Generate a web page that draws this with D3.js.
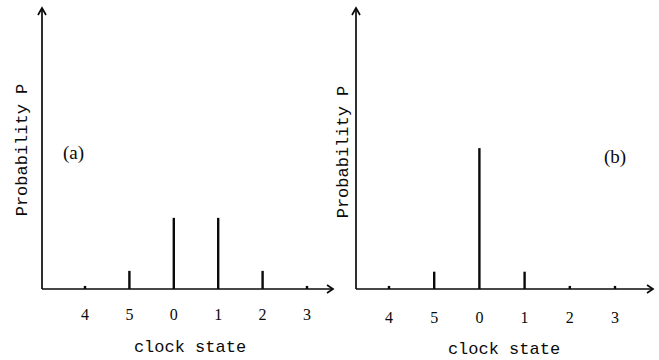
<!DOCTYPE html>
<meta charset="utf-8">
<style>
  body { margin: 0; background: #fff; }
  .tick_label { font-family: "Liberation Serif", serif; font-size: 16px; }
  .axis_title { font-family: "Liberation Mono", monospace; font-size: 17px; }
  .panel_tag { font-family: "Liberation Serif", serif; font-size: 19px; }
</style>
<body>
<script src="https://cdn.jsdelivr.net/npm/d3@7"></script>
<script>

var width = 659
var height = 360

// clock states in the order they appear on the axis
var states = ["4", "5", "0", "1", "2", "3"];
// probabilities (arbitrary units, same scale for both panels)
var probA = [0.011, 0.065, 0.255, 0.255, 0.065, 0.011];
var probB = [0.011, 0.062, 0.505, 0.062, 0.011, 0.011];

var svg = d3.select("body")
	.append("svg")
	.attr("width", width)
	.attr("height", height);

var ink = "#0a0a0a";

function drawPanel(values, opt) {
	var g = svg.append("g");

	var x = d3.scalePoint()
		.domain(states)
		.range([opt.x0, opt.x1]);

	var y = d3.scaleLinear()
		.domain([0, 1])
		.range([opt.base, opt.top]);

	// axes with open arrow heads
	g.append("path")
		.attr("d", "M" + opt.axisX + "," + opt.base + "V" + (opt.top - 2))
		.attr("stroke", ink).attr("stroke-width", 1.7).attr("fill", "none");
	g.append("path")
		.attr("d", "M" + (opt.axisX - 4) + "," + (opt.top + 5) + "L" + opt.axisX + "," + (opt.top - 2) + "L" + (opt.axisX + 4) + "," + (opt.top + 5))
		.attr("stroke", ink).attr("stroke-width", 1.7).attr("fill", "none");
	g.append("path")
		.attr("d", "M" + opt.axisX + "," + opt.base + "H" + opt.xEnd)
		.attr("stroke", ink).attr("stroke-width", 1.7).attr("fill", "none");
	g.append("path")
		.attr("d", "M" + (opt.xEnd - 6) + "," + (opt.base - 4) + "L" + opt.xEnd + "," + opt.base + "L" + (opt.xEnd - 6) + "," + (opt.base + 4))
		.attr("stroke", ink).attr("stroke-width", 1.7).attr("fill", "none");

	// probability spikes
	g.selectAll("line.spike")
		.data(values)
		.enter()
		.append("line")
		.attr("class", "spike")
		.attr("x1", function (d, i) { return x(states[i]); })
		.attr("x2", function (d, i) { return x(states[i]); })
		.attr("y1", y(0))
		.attr("y2", function (d) { return y(d); })
		.attr("stroke", ink)
		.attr("stroke-width", 2.4);

	// state labels
	g.selectAll("text.tick_label")
		.data(states)
		.enter()
		.append("text")
		.attr("class", "tick_label")
		.attr("text-anchor", "middle")
		.attr("x", function (d) { return x(d); })
		.attr("y", opt.labelY)
		.attr("fill", ink)
		.text(function (d) { return d; });

	g.append("text")
		.attr("class", "axis_title")
		.attr("text-anchor", "middle")
		.attr("x", opt.titleX)
		.attr("y", opt.titleY)
		.attr("fill", ink)
		.text("clock state");

	g.append("text")
		.attr("class", "axis_title")
		.attr("text-anchor", "middle")
		.attr("transform", "translate(" + opt.yTitleX + "," + opt.yTitleY + ") rotate(-90)")
		.attr("fill", ink)
		.text("Probability P");

	g.append("text")
		.attr("class", "panel_tag")
		.attr("x", opt.tagX)
		.attr("y", opt.tagY)
		.attr("fill", ink)
		.text(opt.tag);
}

drawPanel(probA, {
	x0: 85, x1: 307, base: 289, top: 10, axisX: 42, xEnd: 333,
	labelY: 320, titleX: 190, titleY: 352, yTitleX: 27, yTitleY: 150,
	tagX: 63, tagY: 159, tag: "(a)"
});

drawPanel(probB, {
	x0: 389, x1: 615, base: 289, top: 10, axisX: 356, xEnd: 653,
	labelY: 323, titleX: 504, titleY: 354, yTitleX: 348, yTitleY: 152,
	tagX: 604, tagY: 163, tag: "(b)"
});

</script>
</body>
